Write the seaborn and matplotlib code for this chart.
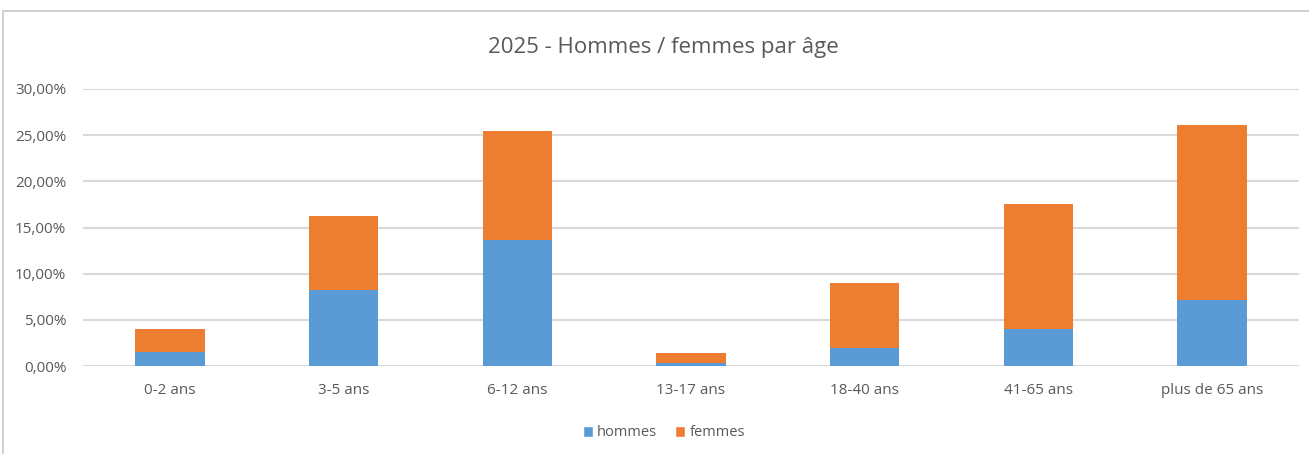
import matplotlib
matplotlib.use("Agg")
import matplotlib.pyplot as plt
from matplotlib.patches import Rectangle, Patch
from matplotlib.ticker import FuncFormatter
import seaborn as sns
import pandas as pd

categories = ["0-2 ans", "3-5 ans", "6-12 ans", "13-17 ans", "18-40 ans", "41-65 ans", "plus de 65 ans"]
hommes = [0.0155, 0.082, 0.1365, 0.0036, 0.0199, 0.0405, 0.071]
femmes = [0.0242, 0.080, 0.118, 0.0109, 0.0696, 0.1345, 0.190]
title = "2025 - Hommes / femmes par âge"

blue = "#5b9bd5"
orange = "#ed7d31"
txt = "#595959"
grid = "#d9d9d9"

sns.set_theme(style="white")
plt.rcParams["font.family"] = ["Open Sans", "DejaVu Sans"]

df = pd.DataFrame({"cat": categories, "hommes": hommes, "femmes": femmes})
df["total"] = df["hommes"] + df["femmes"]

fig = plt.figure(figsize=(13.09, 4.54), dpi=100)
ax = fig.add_axes([83/1309, 1-366/454, (1299-83)/1309, (366-89)/454])

sns.barplot(data=df, x="cat", y="total", color=orange, width=0.4, saturation=1, ax=ax, zorder=3, linewidth=0)
sns.barplot(data=df, x="cat", y="hommes", color=blue, width=0.4, saturation=1, ax=ax, zorder=3, linewidth=0)

ax.set_ylim(0, 0.30)
ax.set_yticks([0, 0.05, 0.10, 0.15, 0.20, 0.25, 0.30])
ax.yaxis.set_major_formatter(FuncFormatter(lambda v, p: f"{v*100:.2f}%".replace(".", ",")))
ax.grid(axis="y", color=grid, linewidth=1.5, zorder=0)
ax.set_axisbelow(True)
for s in ax.spines.values():
    s.set_visible(False)
ax.set_xlabel("")
ax.set_ylabel("")
ax.tick_params(axis="both", length=0, labelsize=11, colors=txt)
ax.tick_params(axis="y", pad=12)
ax.tick_params(axis="x", pad=12)

fig.text(0.507, 1-47/454, title, ha="center", va="center", fontsize=16, color=txt)

handles = [Patch(facecolor=blue, label="hommes"), Patch(facecolor=orange, label="femmes")]
fig.legend(handles=handles, loc="center", bbox_to_anchor=(0.507, 1-433/454), ncol=2, frameon=False,
           fontsize=10.5, labelcolor=txt, handlelength=0.7, handleheight=0.7, handletextpad=0.3, columnspacing=1.2)

fig.patches.append(Rectangle((3/1309, -0.1), 1.2, 1-11.5/454+0.1, transform=fig.transFigure,
                             fill=False, edgecolor="#c8c8c8", linewidth=1.2))

fig.savefig("out.png", dpi=100)
